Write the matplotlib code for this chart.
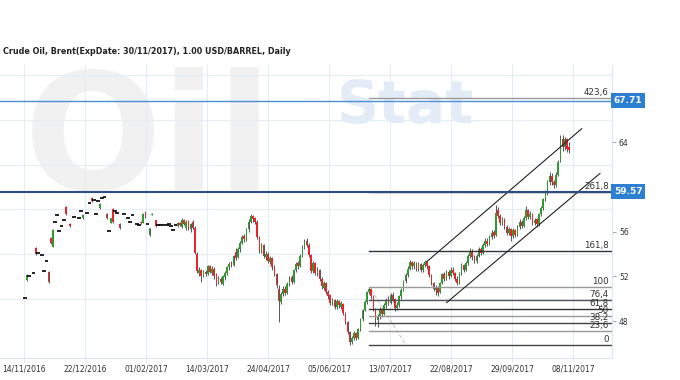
import matplotlib.pyplot as plt

title = "Crude Oil, Brent(ExpDate: 30/11/2017), 1.00 USD/BARREL, Daily"

date_labels = ["14/11/2016", "22/12/2016", "01/02/2017", "14/03/2017", "24/04/2017",
               "05/06/2017", "13/07/2017", "22/08/2017", "29/09/2017", "08/11/2017"]
date_ticks = [-0.5, 27.9, 56.3, 84.7, 113.1, 141.4, 169.8, 198.2, 226.6, 255.0]

# daily bars, None = no trade that day
opens = [50.1, 51.7, 52.0, None, 52.3, 54.5, 54.05, None, 53.95, 52.5,
         53.4, 52.4, 55.4, 54.65, 56.9, 57.5, 56.05, 56.5, 57.0, 58.2,
         None, 56.7, None, 57.3, None, 57.2, 57.8, 57.2, None, 57.7,
         58.55, 59.0, 58.8, 57.6, 58.75, 58.1, 59.0, 59.05, 57.6, 56.05,
         56.8, 58.0, 57.85, 57.7, 56.7, None, 57.6, None, 57.2, 56.9,
         57.45, None, 56.7, 56.6, 56.9, 56.8, 57.7, 56.7, 55.7, 57.5,
         None, 57.0, 56.6, 56.6, 56.55, None, 56.6, 56.7, 56.5, 56.1,
         56.6,
         56.5, 56.8, 56.4, 57.0, 56.3, 56.9, 56.2, 56.9, 56.3, 54.0,
         52.3, 52.6, 52.0, 52.4, 52.2, 52.9, 52.3, 52.7, 52.2, 51.4,
         51.8, 51.3, 51.9, 52.3, 52.8, 53.2, 53.0, 54.2, 53.7, 54.4,
         55.0, 55.6, 55.3, 56.2, 56.9, 57.4, 57.2, 56.9, 55.5, 54.3,
         54.8, 53.7, 54.0, 53.3, 53.6, 52.8, 52.2, 50.9, 49.7, 50.4,
         50.9, 50.5, 51.3, 51.9, 51.5, 52.6, 53.2, 52.9, 53.8, 54.6,
         55.2, 54.8, 53.9, 52.5, 53.2, 52.3, 52.6, 51.8, 51.0, 51.4,
         50.6, 50.3, 49.6, 49.9, 49.3, 49.8, 49.3, 49.5, 48.7, 47.9,
         47.0, 46.1, 46.5, 46.9, 46.5, 47.3, 48.2, 49.0, 49.7, 50.6,
         50.9, 50.2, 49.1, 48.1, 48.4, 49.1, 48.6, 49.4, 49.9, 49.6,
         50.3, 50.0, 49.2, 49.4, 50.2, 50.8, 51.6, 52.1, 52.7, 53.3,
         52.9, 53.2, 52.7, 53.1, 52.6, 53.0, 53.3, 52.9, 52.1, 51.4,
         50.8, 51.0, 50.6, 51.4, 52.2, 51.8, 52.4, 52.0, 52.6, 52.3,
         51.8, 51.5, 52.3, 53.0, 52.6, 53.2, 53.8, 54.3, 53.7, 53.4,
         53.8, 54.4, 54.1, 54.8, 55.2, 54.9, 55.5, 56.0, 55.7, 57.9,
         57.4, 56.8, 57.1, 56.4, 55.9, 56.2, 55.6, 56.1, 55.7, 56.4,
         56.9, 56.5, 57.2, 57.9, 57.3, 57.6, 56.8, 57.1, 56.7, 57.6,
         58.1, 58.9, 59.5, 60.4, 61.0, 60.4, 60.2, 61.1, 62.3, 64.3,
         63.6, 64.3, 63.6]

closes = [50.1, 52.1, 52.0, None, 52.3, 54.0, 54.05, None, 53.95, 52.5,
          53.4, 51.5, 55.0, 56.1, 56.9, 57.5, 56.05, 56.5, 57.0, 57.6,
          None, 56.5, None, 57.3, None, 57.2, 57.8, 57.5, None, 57.7,
          58.55, 58.7, 58.8, 57.6, 58.75, 58.5, 59.0, 59.05, 57.2, 56.05,
          57.2, 56.9, 57.85, 57.7, 56.3, None, 57.6, None, 57.2, 56.9,
          57.45, None, 56.7, 56.6, 56.75, 57.6, 57.3, 56.7, 56.3, 57.6,
          None, 56.5, 56.6, 56.6, 56.55, None, 56.6, 56.7, 56.5, 56.1,
          56.6,
          56.8, 56.6, 57.0, 56.7, 56.9, 56.2, 56.7, 56.3, 54.1, 52.5,
          52.6, 52.0, 52.4, 52.2, 52.9, 52.4, 52.7, 52.0, 51.3, 51.8,
          51.5, 52.0, 52.3, 52.8, 53.1, 53.0, 53.8, 53.6, 54.4, 55.0,
          55.5, 55.3, 56.2, 56.9, 57.4, 57.1, 56.9, 55.5, 54.3, 54.8,
          53.8, 54.0, 53.4, 53.6, 52.8, 52.2, 51.2, 49.8, 50.4, 50.9,
          50.5, 51.3, 51.8, 51.5, 52.6, 53.1, 52.9, 53.8, 54.6, 55.1,
          54.8, 53.9, 52.5, 53.2, 52.3, 52.6, 51.8, 51.1, 51.4, 50.6,
          50.2, 49.6, 49.9, 49.3, 49.8, 49.4, 49.6, 48.7, 47.9, 47.0,
          46.1, 46.5, 46.9, 46.5, 47.3, 48.2, 49.0, 49.7, 50.6, 50.9,
          50.2, 49.1, 48.3, 48.4, 49.1, 48.6, 49.4, 49.9, 49.6, 50.3,
          49.9, 49.2, 49.4, 50.2, 50.8, 51.6, 52.1, 52.7, 53.3, 52.9,
          53.2, 52.7, 53.1, 52.6, 53.0, 53.3, 52.9, 52.1, 51.4, 50.9,
          51.0, 50.5, 51.4, 52.2, 51.8, 52.4, 52.0, 52.6, 52.3, 51.8,
          51.4, 52.3, 53.0, 52.6, 53.2, 53.8, 54.3, 53.7, 53.4, 53.8,
          54.4, 54.1, 54.8, 55.2, 54.9, 55.5, 55.9, 55.6, 57.7, 57.4,
          56.8, 57.1, 56.4, 55.9, 56.2, 55.6, 56.1, 55.7, 56.4, 56.9,
          56.5, 57.2, 57.9, 57.3, 57.6, 56.8, 57.0, 56.7, 57.6, 58.1,
          58.9, 59.5, 60.4, 61.0, 60.4, 60.2, 61.1, 62.2, 64.2, 63.6,
          64.3, 63.4, 63.3]

highs = [50.1, 52.2, 52.0, None, 52.3, 54.6, 54.05, None, 53.95, 52.5,
         53.4, 52.5, 55.5, 56.2, 56.9, 57.5, 56.05, 56.5, 57.0, 58.3,
         None, 56.75, None, 57.3, None, 57.2, 57.8, 57.55, None, 57.7,
         58.55, 59.1, 58.8, 57.6, 58.75, 58.55, 59.0, 59.05, 57.7, 56.05,
         57.25, 58.1, 57.85, 57.7, 56.8, None, 57.6, None, 57.2, 56.9,
         57.45, None, 56.7, 56.6, 56.95, 57.7, 57.8, 56.7, 56.35, 57.65,
         None, 57.05, 56.6, 56.6, 56.55, None, 56.6, 56.7, 56.5, 56.1,
         56.6,
         56.9, 56.9, 57.2, 57.1, 57.0, 57.0, 56.8, 57.0, 56.5, 54.2,
         52.8, 52.7, 52.6, 52.6, 53.0, 53.0, 52.9, 52.8, 52.3, 52.0,
         51.9, 52.1, 52.5, 52.9, 53.3, 53.4, 53.9, 54.5, 54.6, 55.2,
         55.7, 55.8, 56.3, 57.1, 57.6, 57.5, 57.3, 57.0, 55.6, 55.0,
         54.9, 54.3, 54.2, 53.8, 53.7, 53.0, 52.3, 51.2, 50.6, 51.1,
         51.1, 51.5, 52.0, 52.1, 52.7, 53.3, 53.4, 54.0, 54.8, 55.3,
         55.4, 55.0, 54.0, 53.4, 53.3, 52.8, 52.7, 51.9, 51.6, 51.5,
         50.8, 50.4, 50.1, 50.0, 50.0, 49.9, 49.8, 49.6, 48.8, 48.0,
         47.1, 46.7, 47.1, 47.0, 47.4, 48.3, 49.1, 49.9, 50.7, 51.05,
         51.0, 50.3, 49.2, 48.6, 49.3, 49.2, 49.6, 50.1, 50.2, 50.5,
         50.6, 50.1, 49.7, 50.3, 51.0, 51.7, 52.3, 52.9, 53.5, 53.4,
         53.4, 53.3, 53.3, 53.2, 53.2, 53.5, 53.4, 53.0, 52.2, 51.5,
         51.2, 51.1, 51.5, 52.3, 52.4, 52.6, 52.6, 52.8, 52.8, 52.4,
         52.0, 52.4, 53.2, 53.1, 53.4, 54.0, 54.5, 54.4, 53.9, 54.0,
         54.6, 54.6, 55.0, 55.4, 55.4, 55.7, 56.1, 56.1, 58.4, 58.2,
         57.6, 57.3, 57.2, 56.6, 56.4, 56.3, 56.3, 56.2, 56.6, 57.1,
         57.0, 57.4, 58.3, 58.0, 57.8, 57.7, 57.2, 57.2, 57.7, 58.3,
         59.0, 59.7, 60.6, 61.3, 61.2, 60.6, 61.3, 62.4, 64.6, 64.6,
         64.5, 64.4, 64.0]

lows = [50.1, 51.6, 52.0, None, 52.3, 53.9, 54.05, None, 53.95, 52.5,
        53.4, 51.4, 54.9, 54.6, 56.9, 57.5, 56.05, 56.5, 57.0, 57.5,
        None, 56.45, None, 57.3, None, 57.2, 57.8, 57.15, None, 57.7,
        58.55, 58.65, 58.8, 57.6, 58.75, 58.05, 59.0, 59.05, 57.1, 56.05,
        56.75, 56.8, 57.85, 57.7, 56.25, None, 57.6, None, 57.2, 56.9,
        57.45, None, 56.7, 56.6, 56.7, 56.75, 57.25, 56.7, 55.65, 57.45,
        None, 56.45, 56.6, 56.6, 56.55, None, 56.6, 56.7, 56.5, 56.1,
        56.6,
        56.4, 56.5, 56.3, 56.6, 56.1, 56.1, 56.0, 56.2, 54.0, 52.3,
        52.0, 51.5, 51.9, 52.0, 52.1, 52.3, 52.1, 51.8, 51.1, 51.3,
        51.3, 51.2, 51.7, 52.1, 52.6, 52.8, 52.9, 53.5, 53.6, 54.2,
        54.9, 55.1, 55.2, 56.0, 56.8, 56.9, 56.7, 55.3, 54.1, 54.1,
        53.6, 53.5, 53.2, 53.1, 52.6, 52.0, 51.0, 47.9, 49.5, 50.2,
        50.3, 50.4, 51.1, 51.3, 51.4, 52.4, 52.7, 52.8, 53.7, 54.4,
        54.6, 53.7, 52.3, 52.3, 52.1, 52.0, 51.6, 50.9, 50.8, 50.4,
        50.0, 49.4, 49.4, 49.1, 49.1, 49.2, 49.1, 48.5, 47.7, 46.8,
        45.9, 45.95, 46.3, 46.3, 46.4, 47.1, 48.0, 48.9, 49.5, 50.4,
        50.0, 48.9, 47.6, 47.5, 48.2, 48.4, 48.5, 49.2, 49.4, 49.5,
        49.7, 48.9, 49.0, 49.3, 50.0, 50.7, 51.4, 51.9, 52.6, 52.7,
        52.7, 52.5, 52.5, 52.4, 52.4, 52.8, 52.7, 51.9, 51.2, 50.7,
        50.3, 50.2, 50.5, 51.3, 51.6, 51.7, 51.8, 51.9, 52.1, 51.6,
        51.2, 51.3, 52.1, 52.4, 52.5, 53.0, 53.6, 53.5, 53.2, 53.2,
        53.7, 53.9, 54.0, 54.6, 54.7, 54.8, 55.3, 55.4, 55.6, 57.2,
        56.6, 56.6, 56.2, 55.7, 55.7, 55.2, 55.4, 55.5, 55.6, 56.2,
        56.3, 56.4, 57.0, 57.1, 57.1, 56.6, 56.6, 56.4, 56.5, 57.4,
        57.9, 58.7, 59.3, 60.2, 60.2, 59.9, 60.0, 61.0, 62.2, 63.2,
        63.3, 63.1, 63.0]

# Fibonacci extension drawn from the June low to the July high
fib_levels = [0, 23.6, 38.2, 50, 61.8, 76.4, 100, 161.8, 261.8, 423.6]
fib_labels = ["0", "23,6", "38,2", "50", "61,8", "76,4", "100", "161,8", "261,8", "423,6"]
fib_low = 45.86
fib_high = 51.07
fib_start = 160

# price markers on the right
marks = [67.71, 59.57]

# trend channel (start bar, start price, end bar, end price)
channel_upper = [186.8, 53.3, 258.9, 65.2]
channel_lower = [196.1, 49.65, 267.4, 61.2]
fib_trend = [161, 50.8, 177, 45.9]

fig = plt.figure(figsize=(6.8, 3.8), dpi=100)
ax = fig.add_axes([0.0, 0.058, 0.9, 0.771])
ax.set_facecolor('none')
ax.set_zorder(1)

# faint watermark behind the chart
fig.text(0.035, 0.5, "Oil", fontsize=117, fontweight='bold', color='#f1f1f1',
         va='baseline', ha='left', zorder=-1)
fig.text(0.495, 0.675, "Stat", fontsize=42, fontweight='bold', color='#e3ecf6',
         va='baseline', ha='left', zorder=-1)

n = min(len(opens), len(closes), len(highs), len(lows))
for i in range(n):
    o, h, l, c = opens[i], highs[i], lows[i], closes[i]
    if o is None:
        continue
    if o == c and h == l:
        ax.plot([i - 0.9, i + 0.9], [c, c], color='black', lw=1.2, solid_capstyle='butt', zorder=3)
        continue
    ax.vlines(i, l, h, color='#555555', lw=0.7, zorder=2)
    col = '#2f9a2f' if c >= o else '#ee2229'
    ax.bar(i, max(abs(c - o), 0.08), bottom=min(o, c), width=0.75, color=col, lw=0, zorder=3)

# Fibonacci levels
fib_colors = ['#444444', '#999999', '#444444', '#999999', '#333333', '#555555',
              '#999999', '#333333', '#333333', '#999999']
for lvl, lab, colr in zip(fib_levels, fib_labels, fib_colors):
    y = fib_low + (fib_high - fib_low) * lvl / 100
    ax.plot([fib_start, 273], [y, y], color=colr, lw=1.0, zorder=4)
    ax.text(271.5, y + 0.1, lab, ha='right', va='bottom', fontsize=6.3, color='#333333', zorder=5)

ax.plot(fib_trend[0::2], fib_trend[1::2], color='#cccccc', lw=0.8, ls='--', zorder=2)
ax.plot(channel_upper[0::2], channel_upper[1::2], color='#222222', lw=0.8, zorder=4)
ax.plot(channel_lower[0::2], channel_lower[1::2], color='#222222', lw=0.8, zorder=4)

# horizontal price markers
ax.axhline(marks[0], color='#4a8fd8', lw=1.0, zorder=4)
ax.axhline(marks[1], color='#2b4f80', lw=1.5, zorder=4)
for m in marks:
    ax.text(1.003, m, "%.2f" % m, transform=ax.get_yaxis_transform(), ha='left', va='center',
            color='white', fontsize=6.5, fontweight='bold', zorder=6, clip_on=False,
            bbox=dict(boxstyle='square,pad=0.3', fc='#2d7fd3', ec='none'))

ax.set_xlim(-11.6, 273.0)
ax.set_ylim(44.7, 70.9)

ax.set_xticks(date_ticks)
ax.set_xticklabels(date_labels)
ax.yaxis.tick_right()
ax.set_yticks([48, 52, 56, 64])
ax.set_yticks([50, 54, 58, 62, 66, 70], minor=True)
ax.tick_params(axis='x', labelsize=5.5, colors='#333333', length=3, color='#dbe8f5', pad=2)
ax.tick_params(axis='y', which='major', labelsize=5.5, colors='#333333', length=3, color='#aaaaaa', pad=2)
ax.tick_params(axis='y', which='minor', length=0)
ax.grid(axis='x', which='major', color='#e2edf8', lw=0.8, zorder=0)
ax.grid(axis='y', which='minor', color='#e2edf8', lw=0.8, zorder=0)
ax.set_axisbelow(True)

for side in ['top', 'left']:
    ax.spines[side].set_visible(False)
for side in ['right', 'bottom']:
    ax.spines[side].set_color('#dbe8f5')

fig.text(0.004, 1 - 51 / 380, title, fontsize=5.8, fontweight='bold', va='center', color='#222222')

plt.savefig("out.png", dpi=100)
